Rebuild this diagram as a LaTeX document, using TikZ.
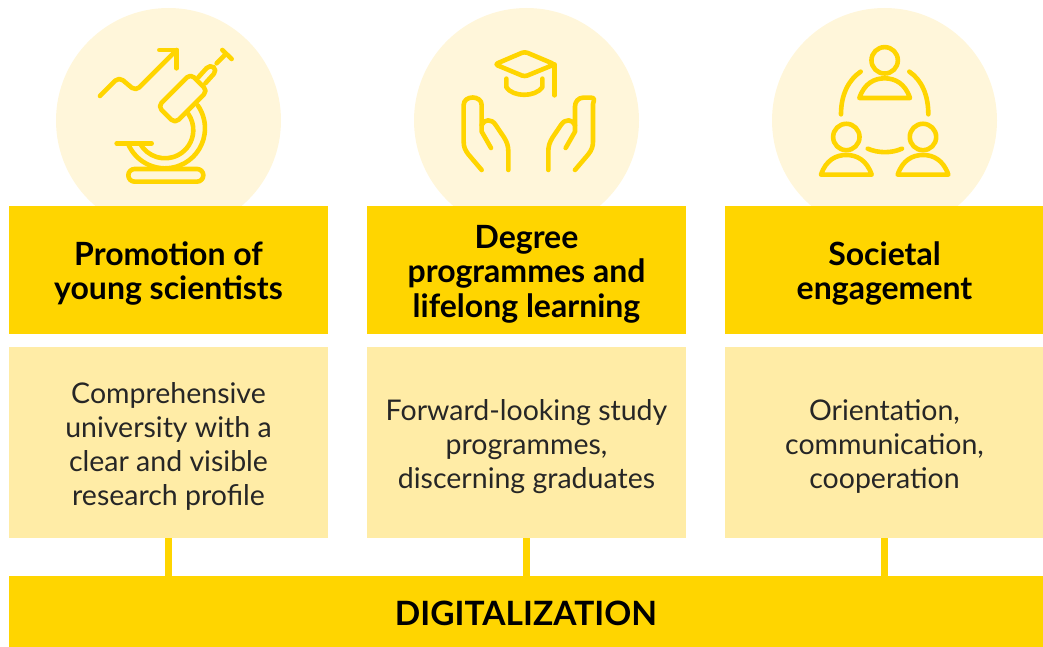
\documentclass[tikz,border=0pt]{standalone}
\usepackage{fontspec}
\setmainfont{Lato}
\definecolor{ygold}{HTML}{FFD500}
\definecolor{ypale}{HTML}{FFECA6}
\definecolor{ycirc}{HTML}{FFF6DA}
\newcommand\headdrop{\rule{0pt}{31pt}}
\newcommand\bodydrop{\rule{0pt}{29pt}}
\tikzset{
  headbox/.style={fill=ygold,draw=none,minimum width=319pt,minimum height=128pt,inner sep=0pt,align=center,text=black,font=\fontsize{32}{34.5}\selectfont\bfseries},
  descbox/.style={fill=ypale,draw=none,minimum width=319pt,minimum height=191pt,inner sep=0pt,align=center,text=black!85,font=\fontsize{28.5}{34}\selectfont},
  halo/.style={circle,fill=ycirc,draw=none,minimum size=225pt,inner sep=0pt},
  bar/.style={fill=ygold,draw=none,minimum width=1034pt,minimum height=71pt,inner sep=0pt,text=black,font=\fontsize{33.5}{36}\selectfont\bfseries},
  link/.style={draw=ygold,line width=7pt},
  icon/.style={draw=ygold,line width=4.6pt,line cap=round,line join=round},
  iconscope/.style={x=0.3333pt,y=-0.3333pt}
}
\begin{document}
\begin{tikzpicture}[x=1pt,y=-1pt]
\useasboundingbox (0,0) rectangle (1043,647);
\node[halo] (c1) at (168.5,120.5) {};
\node[halo] (c2) at (526.5,120.5) {};
\node[halo] (c3) at (884.5,120.5) {};
\node[headbox] (h1) at (168.5,270) {\headdrop Promotion of\\young scientists};
\node[headbox] (h2) at (526.5,270) {\headdrop Degree\\programmes and\\lifelong learning};
\node[headbox] (h3) at (884.5,270) {\headdrop Societal\\engagement};
\node[descbox] (d1) at (168.5,442.5) {\bodydrop Comprehensive\\university with a\\clear and visible\\research profile};
\node[descbox] (d2) at (526.5,442.5) {\bodydrop Forward-looking study\\programmes,\\discerning graduates};
\node[descbox] (d3) at (884.5,442.5) {\bodydrop Orientation,\\communication,\\cooperation};
\node[bar] (b) at (526,611.5) {\rule{0pt}{28pt}DIGITALIZATION};
\draw[link] (d1.south) -- (d1.south |- b.north);
\draw[link] (d2.south) -- (d2.south |- b.north);
\draw[link] (d3.south) -- (d3.south |- b.north);
% microscope
\begin{scope}[shift={(50,0)},iconscope]
\draw[icon,rounded corners=5pt] (150,288) -- (207,231) -- (257,273) -- (380,150);
\draw[icon] (328,150) -- (380,150) -- (380,205);
\draw[icon] ([shift=(202:40pt)]345,385) arc[start angle=202,end angle=395,radius=40pt];
\draw[icon] ([shift=(208:28.3pt)]345,390) arc[start angle=208,end angle=395,radius=28.3pt];
\draw[icon] (200,430) -- (305,430);
\draw[icon,rounded corners=6.3pt] (235,507) rectangle (460,545);
\draw[icon,fill=ycirc,rounded corners=5pt] (421.5,221.5) -- (472.5,272.5) -- (375,370) -- (324,319) -- cycle;
\draw[icon,rounded corners=5pt] (445,232) -- (480,193) -- (502,210) -- (466,250);
\draw[icon] (500,190) -- (527,163);
\draw[icon] (517,150) -- (545,177);
\end{scope}
% hands and cap
\begin{scope}[shift={(410,0)},iconscope]
\draw[icon,rounded corners=3pt] (255,193) -- (344,155) -- (434,193) -- (344,230) -- cycle;
\draw[icon] (433,193) -- (433,286);
\draw[icon] (289,236) -- (289,262) .. controls (310,292) and (375,292) .. (397,262) -- (397,236);
\draw[icon] (215,510) -- (175,463) .. controls (165,450) and (161,440) .. (161,425) -- (161,315) .. controls (161,285) and (215,285) .. (215,315) -- (215,395) -- (243,444);
\draw[icon] (215,375) .. controls (222,358) and (245,355) .. (257,375) -- (282,412) .. controls (292,428) and (295,440) .. (295,455) -- (295,510);
\draw[icon] (495,510) -- (535,463) .. controls (545,450) and (549,440) .. (549,425) -- (549,312) .. controls (555,295) and (552,293) .. (540,293) -- (520,293) .. controls (505,293) and (495,305) .. (495,320) -- (495,395) -- (467,444);
\draw[icon] (495,375) .. controls (488,358) and (465,355) .. (453,375) -- (428,412) .. controls (418,428) and (415,440) .. (415,455) -- (415,510);
\end{scope}
% people
\begin{scope}[shift={(770,0)},iconscope]
\draw[icon] (344,181) circle[radius=13.2pt];
\draw[icon] (268,294) -- (420,294) .. controls (405,250) and (375,235) .. (344,235) .. controls (313,235) and (283,250) .. (268,294) -- cycle;
\draw[icon] (229,411) circle[radius=13.2pt];
\draw[icon] (153,524) -- (305,524) .. controls (290,480) and (260,465) .. (229,465) .. controls (198,465) and (168,480) .. (153,524) -- cycle;
\draw[icon] (459,411) circle[radius=13.2pt];
\draw[icon] (383,524) -- (535,524) .. controls (520,480) and (490,465) .. (459,465) .. controls (428,465) and (398,480) .. (383,524) -- cycle;
\draw[icon] (272,215) .. controls (235,240) and (213,285) .. (213,343);
\draw[icon] (418,215) .. controls (455,240) and (475,285) .. (475,343);
\draw[icon] (293,446) .. controls (325,460) and (365,460) .. (396,446);
\end{scope}
\end{tikzpicture}
\end{document}
